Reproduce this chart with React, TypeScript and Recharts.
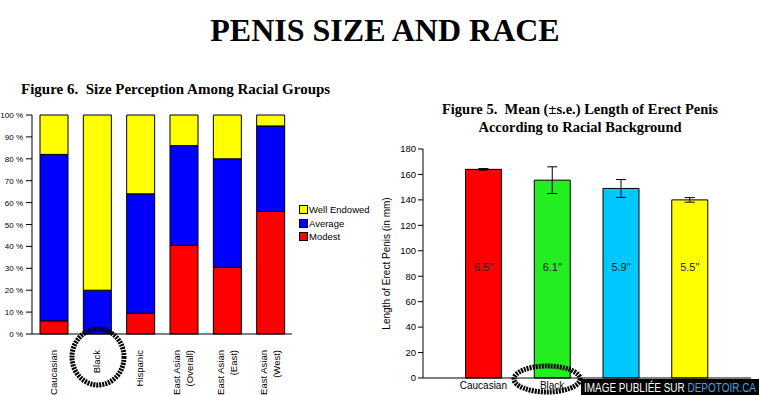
import React from "react";
import { Bar, BarChart, ErrorBar, LabelList, XAxis, YAxis, Cell } from "recharts";

// Figure 6 - stacked percentages
const groups = ["Caucasian", "Black", "Hispanic", "East Asian|(Overall)", "East Asian|(East)", "East Asian|(West)"];
const modest = [6, 0, 9.5, 40.5, 30.5, 56];
const average = [76, 20, 54.5, 45.5, 49.5, 39];
const wellEndowed = [18, 80, 36, 14, 20, 5];
const pctTicks = [0, 10, 20, 30, 40, 50, 60, 70, 80, 90, 100];

// Figure 5 - mean length (mm) with s.e.
const races = ["Caucasian", "Black", "Hispanic", "East Asian"];
const meanLength = [164, 155.5, 149, 140];
const stdErr = [0.6, 10.5, 7, 1.8];
const inchLabels = ['6.5"', '6.1"', '5.9"', '5.5"'];
const raceColors = ["#ff0000", "#22ee22", "#00c8ff", "#ffff00"];
const mmTicks = [0, 20, 40, 60, 80, 100, 120, 140, 160, 180];

const perception = groups.map((g, i) => ({
  group: g,
  modest: modest[i],
  average: average[i],
  well: wellEndowed[i],
}));

const lengths = races.map((r, i) => ({
  race: r,
  mean: meanLength[i],
  se: stdErr[i],
  inches: inchLabels[i],
}));

const SANS = "'Liberation Sans', Arial, sans-serif";
const SERIF = "'Liberation Serif', 'Times New Roman', serif";

const legendItems = [
  { label: "Well Endowed", color: "#ffff00" },
  { label: "Average", color: "#0000ff" },
  { label: "Modest", color: "#ff0000" },
];

function GroupTick({ x, y, payload }: any) {
  const lines = String(payload.value).split("|");
  const step = 13;
  const start = -((lines.length - 1) * step) / 2;
  return (
    <g>
      {lines.map((ln, i) => (
        <text
          key={i}
          transform={`translate(${x + start + i * step + 3},${y + 8}) rotate(-90)`}
          textAnchor="end"
          fontSize={9.5}
          fontFamily={SANS}
          fill="#000"
        >
          {ln}
        </text>
      ))}
    </g>
  );
}

function PctTick({ x, y, payload }: any) {
  return (
    <text x={x - 1} y={y + 3} textAnchor="end" fontSize={8} fontFamily={SANS} fill="#000">
      {`${payload.value} %`}
    </text>
  );
}

function InchLabel(props: any) {
  const { x, y, width, height, value, index } = props;
  const perUnit = height / meanLength[index];
  const ly = y + height - 87 * perUnit;
  return (
    <text x={x + width / 2} y={ly + 4} textAnchor="middle" fontSize={11} fontFamily={SANS} fill="#222">
      {value}
    </text>
  );
}

export default function App() {
  return (
    <div style={{ position: "absolute", left: 0, top: 0, width: 759, height: 395, background: "#fff", overflow: "hidden" }}>
      <div
        style={{
          position: "absolute", left: 0, top: 12, width: 770, textAlign: "center",
          fontFamily: SERIF, fontWeight: "bold", fontSize: 32, lineHeight: "36px",
        }}
      >
        PENIS SIZE AND RACE
      </div>
      <div
        style={{
          position: "absolute", left: 21, top: 80, whiteSpace: "pre",
          fontFamily: SERIF, fontWeight: "bold", fontSize: 15, lineHeight: "18px",
        }}
      >
        {"Figure 6.  Size Perception Among Racial Groups"}
      </div>
      <div
        style={{
          position: "absolute", left: 380, top: 100, width: 400, textAlign: "center", whiteSpace: "pre",
          fontFamily: SERIF, fontWeight: "bold", fontSize: 14.5, lineHeight: "18px",
        }}
      >
        {"Figure 5.  Mean (±s.e.) Length of Erect Penis\nAccording to Racial Background"}
      </div>

      <div style={{ position: "absolute", left: 0, top: 100 }}>
        <BarChart
          width={380}
          height={295}
          data={perception}
          margin={{ top: 15, right: 88, bottom: 0, left: 0 }}
          barCategoryGap="35%"
        >
          <XAxis
            dataKey="group"
            height={61}
            interval={0}
            tick={<GroupTick />}
            tickLine={false}
            axisLine={{ stroke: "#000" }}
          />
          <YAxis
            width={32}
            domain={[0, 100]}
            ticks={pctTicks}
            interval={0}
            tick={<PctTick />}
            tickLine={{ stroke: "#000" }}
            tickSize={6}
            axisLine={{ stroke: "#000" }}
          />
          <Bar dataKey="modest" stackId="s" barSize={28} fill="#ff0000" stroke="#000" strokeWidth={1} isAnimationActive={false} />
          <Bar dataKey="average" stackId="s" barSize={28} fill="#0000ff" stroke="#000" strokeWidth={1} isAnimationActive={false} />
          <Bar dataKey="well" stackId="s" barSize={28} fill="#ffff00" stroke="#000" strokeWidth={1} isAnimationActive={false} />
        </BarChart>
      </div>

      <div style={{ position: "absolute", left: 299, top: 203 }}>
        {legendItems.map((it) => (
          <div key={it.label} style={{ display: "flex", alignItems: "center", height: 13.5, fontFamily: SANS, fontSize: 9.5 }}>
            <span style={{ width: 7, height: 7, background: it.color, border: "1px solid #000", marginRight: 1 }} />
            {it.label}
          </div>
        ))}
      </div>

      <div style={{ position: "absolute", left: 380, top: 140 }}>
        <BarChart
          width={379}
          height={255}
          data={lengths}
          margin={{ top: 9, right: 8, bottom: 0, left: 0 }}
          barCategoryGap="24%"
        >
          <XAxis
            dataKey="race"
            height={17}
            interval={0}
            padding={{ left: 26, right: 27 }}
            tick={{ fontSize: 10, fontFamily: SANS, fill: "#000" }}
            tickLine={false}
            tickSize={2}
            axisLine={{ stroke: "#000" }}
          />
          <YAxis
            width={43}
            domain={[0, 180]}
            ticks={mmTicks}
            interval={0}
            tick={{ fontSize: 9.5, fontFamily: SANS, fill: "#000" }}
            tickLine={{ stroke: "#000" }}
            tickSize={5}
            axisLine={{ stroke: "#000" }}
            label={{
              value: "Length of Erect  Penis (in mm)",
              angle: -90,
              position: "insideLeft",
              offset: 0,
              dx: 6,
              style: { fontSize: 10, fontFamily: SANS, fill: "#000", textAnchor: "middle" },
            }}
          />
          <Bar dataKey="mean" stroke="#000" strokeWidth={1} isAnimationActive={false}>
            {lengths.map((d, i) => (
              <Cell key={d.race} fill={raceColors[i]} />
            ))}
            <ErrorBar dataKey="se" width={5} stroke="#000" strokeWidth={1} />
            <LabelList dataKey="inches" content={<InchLabel />} />
          </Bar>
        </BarChart>
      </div>

      <svg width={759} height={395} style={{ position: "absolute", left: 0, top: 0, pointerEvents: "none" }}>
        <ellipse cx={98} cy={357} rx={26} ry={28} fill="none" stroke="#000" strokeWidth={5} strokeDasharray="2 1" />
        <ellipse cx={547} cy={379} rx={33} ry={13} fill="none" stroke="#000" strokeWidth={5} strokeDasharray="2 1" />
        <rect x={581} y={379} width={178} height={16} fill="#000" />
        <text
          x={584}
          y={392}
          textLength={172}
          lengthAdjust="spacingAndGlyphs"
          fontSize={12}
          fontFamily={SANS}
          fill="#fff"
        >
          IMAGE PUBLIÉE SUR <tspan fill="#4aa3e0">DEPOTOIR.CA</tspan>
        </text>
      </svg>
    </div>
  );
}
